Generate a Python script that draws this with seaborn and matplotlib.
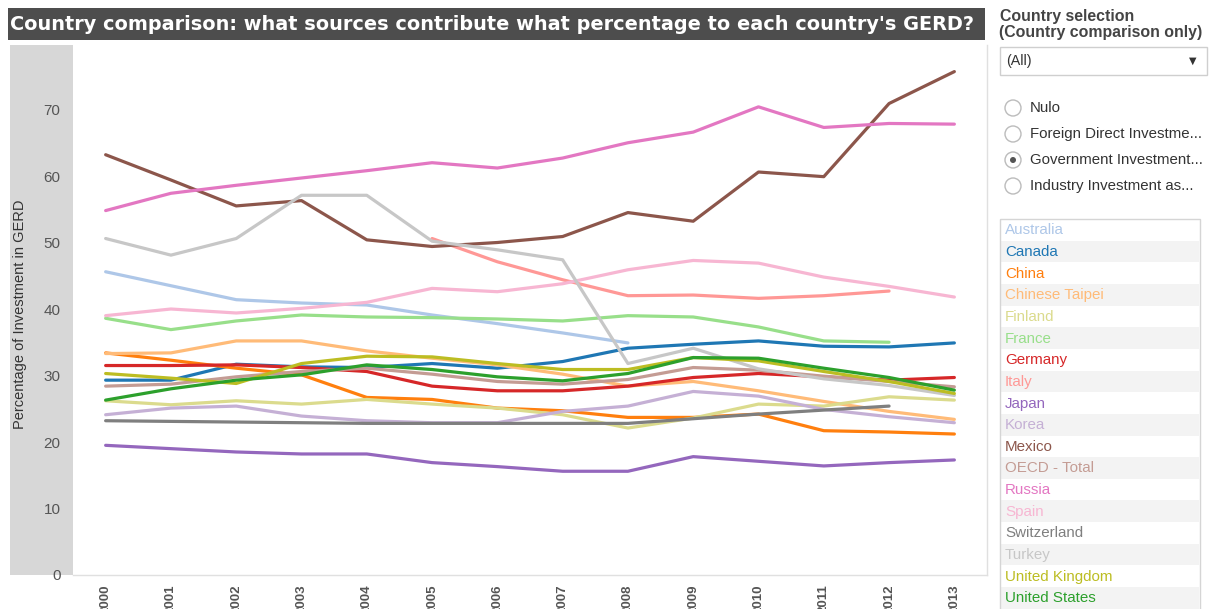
import numpy as np
import pandas as pd
import matplotlib
matplotlib.use('Agg')
import matplotlib.pyplot as plt
import matplotlib.patches as mpatches
import seaborn as sns

# years on the x axis
years = list(range(2000, 2014))

# government investment as % of GERD (None = no data)
australia = [45.6, 43.5, 41.4, 40.9, 40.6, 39.1, 37.8, 36.4, 34.9, None, None, None, None, None]
canada = [29.3, 29.3, 31.7, 31.3, 31.2, 31.8, 31.1, 32.1, 34.1, 34.7, 35.2, 34.4, 34.3, 34.9]
china = [33.4, 32.3, 31.1, 30.1, 26.7, 26.4, 25.1, 24.7, 23.7, 23.7, 24.2, 21.7, 21.5, 21.2]
chinese_taipei = [33.3, 33.4, 35.2, 35.2, 33.7, 32.6, 31.6, 30.2, 28.4, 29.1, 27.7, 26.1, 24.6, 23.4]
finland = [26.2, 25.6, 26.2, 25.7, 26.4, 25.7, 25.1, 24.1, 22.1, 23.6, 25.7, 25.4, 26.8, 26.3]
france = [38.6, 36.9, 38.2, 39.1, 38.8, 38.7, 38.5, 38.2, 39.0, 38.8, 37.3, 35.2, 35.0, None]
germany = [31.5, 31.5, 31.6, 31.2, 30.6, 28.4, 27.7, 27.7, 28.4, 29.7, 30.3, 29.8, 29.3, 29.7]
italy = [None, None, None, None, None, 50.6, 47.1, 44.4, 42.0, 42.1, 41.6, 42.0, 42.7, None]
japan = [19.5, 19.0, 18.5, 18.2, 18.2, 16.9, 16.3, 15.6, 15.6, 17.8, 17.1, 16.4, 16.9, 17.3]
korea = [24.1, 25.1, 25.4, 23.9, 23.2, 22.9, 22.9, 24.6, 25.4, 27.6, 26.9, 24.9, 23.8, 22.9]
mexico = [63.2, 59.4, 55.5, 56.3, 50.4, 49.4, 50.0, 50.9, 54.5, 53.2, 60.6, 59.9, 70.9, 75.7]
oecd_total = [28.4, 28.7, 29.8, 30.6, 31.1, 30.2, 29.1, 28.7, 29.4, 31.2, 30.8, 29.9, 29.1, 28.3]
russia = [54.8, 57.4, 58.6, 59.7, 60.8, 62.0, 61.2, 62.7, 65.0, 66.6, 70.4, 67.3, 67.9, 67.8]
spain = [39.0, 40.0, 39.4, 40.1, 41.0, 43.1, 42.6, 43.8, 45.9, 47.3, 46.9, 44.8, 43.4, 41.8]
switzerland = [23.2, 23.1, 23.0, 22.9, 22.8, 22.8, 22.8, 22.8, 22.8, 23.5, 24.2, 24.8, 25.4, None]
turkey = [50.6, 48.1, 50.6, 57.1, 57.1, 50.2, 48.9, 47.4, 31.8, 34.1, 31.0, 29.5, 28.5, 27.0]
united_kingdom = [30.3, 29.6, 28.8, 31.8, 32.9, 32.8, 31.8, 30.9, 30.9, 32.7, 32.2, 30.6, 29.1, 27.3]
united_states = [26.3, 28.0, 29.3, 30.1, 31.6, 30.9, 29.8, 29.2, 30.3, 32.7, 32.6, 31.1, 29.7, 27.8]

countries = ['Australia', 'Canada', 'China', 'Chinese Taipei', 'Finland', 'France',
             'Germany', 'Italy', 'Japan', 'Korea', 'Mexico', 'OECD - Total', 'Russia',
             'Spain', 'Switzerland', 'Turkey', 'United Kingdom', 'United States']
series = [australia, canada, china, chinese_taipei, finland, france, germany, italy,
          japan, korea, mexico, oecd_total, russia, spain, switzerland, turkey,
          united_kingdom, united_states]

# tableau 20 colours, same order as the legend
colors = ['#aec7e8', '#1f77b4', '#ff7f0e', '#ffbb78', '#dbdb8d', '#98df8a',
          '#d62728', '#ff9896', '#9467bd', '#c5b0d5', '#8c564b', '#c49c94',
          '#e377c2', '#f7b6d2', '#7f7f7f', '#c7c7c7', '#bcbd22', '#2ca02c']

radio_options = ['Nulo', 'Foreign Direct Investme...', 'Government Investment...',
                 'Industry Investment as...']

title = "Country comparison: what sources contribute what percentage to each country's GERD?"

# long form table for seaborn
rows = []
for name, vals in zip(countries, series):
    for y, v in zip(years, vals):
        if v is not None:
            rows.append({'Year': y, 'Country': name, 'Value': v})
df = pd.DataFrame(rows)

sns.set_style('white')
plt.rcParams['font.family'] = ['Liberation Sans', 'DejaVu Sans']

W, H = 1209, 609
fig = plt.figure(figsize=(W / 100, H / 100), dpi=100)

# overlay in pixel coordinates for the dashboard furniture
deco = fig.add_axes([0, 0, 1, 1], zorder=0)
deco.set_xlim(0, W)
deco.set_ylim(H, 0)
deco.axis('off')

# title banner
deco.add_patch(mpatches.Rectangle((8, 8), 977, 32, color='#4d4d4d', lw=0))
deco.text(10, 24.5, title, color='white', fontsize=13.9, fontweight='bold',
          family='DejaVu Sans', va='center', ha='left')

# grey y axis band
deco.add_patch(mpatches.Rectangle((10, 45), 63, 530, color='#d7d7d7', lw=0))
deco.text(20, 314, 'Percentage of Investment in GERD', rotation=90, fontsize=10.5,
          color='#333333', va='center', ha='center')

# right panel
deco.text(1000, 16, 'Country selection', fontsize=11.4, fontweight='bold',
          color='#444444', va='center')
deco.text(999, 33, '(Country comparison only)', fontsize=11.4, fontweight='bold',
          color='#444444', va='center')
deco.add_patch(mpatches.Rectangle((1000, 47), 207, 28, facecolor='white',
                                  edgecolor='#cfcfcf', lw=1))
deco.text(1006, 61, '(All)', fontsize=10.3, color='#333333', va='center')
deco.text(1193, 61, '▼', fontsize=7, color='#333333', va='center', ha='center',
          family='DejaVu Sans')

for i, opt in enumerate(radio_options):
    cy = 108 + i * 26
    deco.add_patch(mpatches.Circle((1013, cy), 8, facecolor='white',
                                   edgecolor='#bbbbbb', lw=1))
    if i == 2:
        deco.add_patch(mpatches.Circle((1013, cy), 3, color='#555555', lw=0))
    deco.text(1030, cy, opt, fontsize=10.8, color='#333333', va='center')

# colour legend list
row_h = 21.65
top = 219
for i, (name, col) in enumerate(zip(countries, colors)):
    y0 = top + i * row_h
    if i % 2 == 1:
        deco.add_patch(mpatches.Rectangle((1001, y0), 198, row_h, color='#f3f3f3', lw=0))
    deco.text(1005, y0 + row_h / 2 + 0.5, name, fontsize=10.9, color=col, va='center')
deco.add_patch(mpatches.Rectangle((1000, top), 200, H - top + 5, fill=False,
                                  edgecolor='#d5d5d5', lw=1))

# main chart
ax = fig.add_axes([73 / W, (H - 575) / H, (987 - 73) / W, (575 - 45) / H], zorder=1)
ax.set_facecolor('white')
sns.lineplot(data=df, x='Year', y='Value', hue='Country', hue_order=countries,
             palette=dict(zip(countries, colors)), linewidth=2.3, legend=False,
             ax=ax, sort=True)

ax.set_xlim(1999.5, 2013.5)
ax.set_ylim(0, 79.7)
ax.set_xlabel('')
ax.set_ylabel('')

ax.set_yticks([0, 10, 20, 30, 40, 50, 60, 70])
ax.tick_params(axis='y', length=5, width=1, color='#666666', pad=4,
               labelsize=11, labelcolor='#555555')
ax.set_xticks(years)
ax.set_xticklabels([str(y) for y in years], rotation=90, fontweight='bold',
                   fontsize=9.5, color='#555555')
ax.set_xticks(np.arange(1999.5, 2014, 1), minor=True)
ax.tick_params(axis='x', which='major', length=0, pad=7)
ax.tick_params(axis='x', which='minor', length=6, width=1, color='#dddddd')

for side in ['top', 'left']:
    ax.spines[side].set_visible(False)
for side in ['right', 'bottom']:
    ax.spines[side].set_color('#e0e0e0')
    ax.spines[side].set_linewidth(1)

fig.savefig('out.png', dpi=100)
